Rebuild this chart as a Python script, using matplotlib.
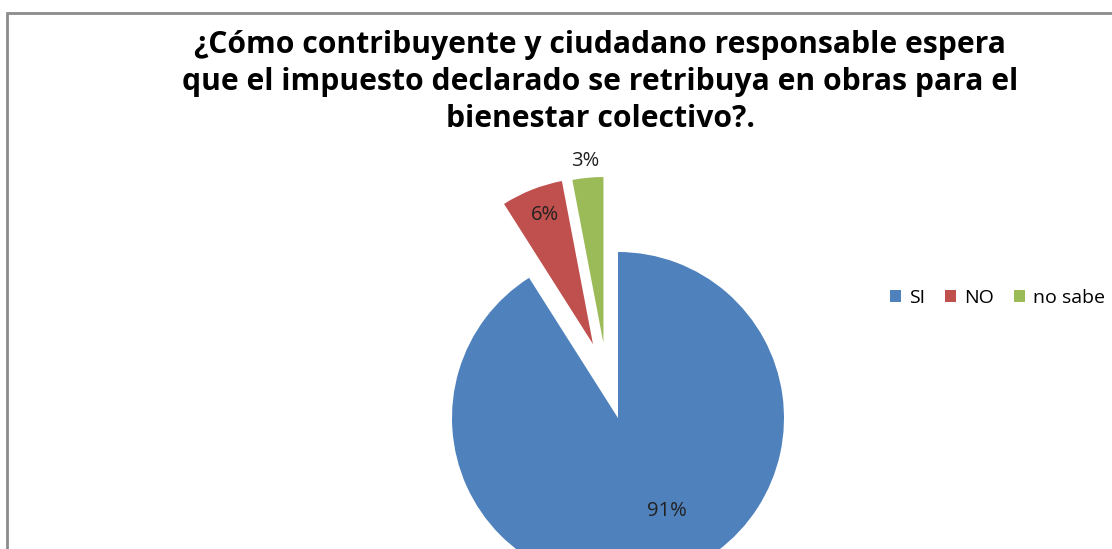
import numpy as np
import matplotlib.pyplot as plt
from matplotlib.patches import Rectangle

# respuestas de la encuesta
categorias = ['SI', 'NO', 'no sabe']
porcentajes = [91, 6, 3]
colores = ['#4F81BD', '#C0504D', '#9BBB59']

# desplazamiento de los sectores separados: (fraccion del radio, angulo)
separacion = [(0, 0), (0.47, 108.7), (0.46, 101.0)]

# posicion de cada etiqueta: (fraccion del radio, angulo en grados)
pos_etiquetas = [(0.63, -62.4), (0.83, 110.5), (1.10, 95.8)]

titulo = ('¿Cómo contribuyente y ciudadano responsable espera\n'
          'que el impuesto declarado se retribuya en obras para el\n'
          'bienestar colectivo?.')

W, H = 1112, 549
fig = plt.figure(figsize=(W / 100, H / 100), dpi=100)
ax = fig.add_axes([0, 0, 1, 1])

cx, cy, r = 618, H - 418, 166
wedges, texts, autotexts = ax.pie(
    porcentajes, colors=colores, startangle=90, counterclock=False,
    center=(cx, cy), radius=r, autopct='%1.0f%%',
    textprops={'fontsize': 14.5, 'family': 'Open Sans'},
    wedgeprops={'linewidth': 0}, frame=False)

for w, t, (d, ang_s), (f, ang) in zip(wedges, autotexts, separacion, pos_etiquetas):
    # separar el sector del centro
    a_s = np.deg2rad(ang_s)
    x0, y0 = cx + d * r * np.cos(a_s), cy + d * r * np.sin(a_s)
    w.set_center((x0, y0))
    # etiqueta de porcentaje respecto al vertice del sector
    a = np.deg2rad(ang)
    t.set_position((x0 + f * r * np.cos(a), y0 + f * r * np.sin(a)))
    t.set_color('#222222')

ax.set_xlim(0, W)
ax.set_ylim(0, H)
ax.set_aspect('equal')
ax.axis('off')

fig.text(600 / W, 1 - 82 / H, titulo, ha='center', va='center',
         fontsize=21.7, fontweight='bold', family='Open Sans',
         linespacing=1.3, color='black')

leg = fig.legend(wedges, categorias, loc='center left',
                 bbox_to_anchor=(880 / W, 1 - 298 / H), ncol=3, frameon=False,
                 prop={'family': 'Open Sans', 'size': 14},
                 handlelength=0.6, handleheight=0.6, handletextpad=0.4,
                 columnspacing=1.0, borderpad=0)

# marco del grafico
fig.patches.append(Rectangle((7 / W, -0.1), 1.2, 1 - 13 / H + 0.1,
                             transform=fig.transFigure, fill=False,
                             edgecolor='#8C8C8C', linewidth=2))

fig.savefig('out.png', dpi=100)
